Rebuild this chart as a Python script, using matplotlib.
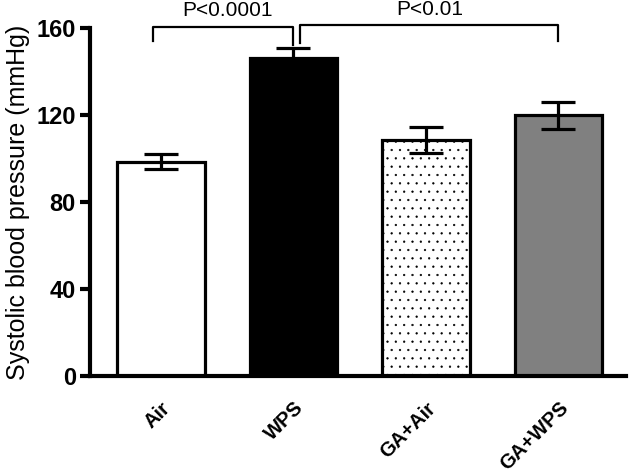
import matplotlib.pyplot as plt
from matplotlib import rc
import numpy as np

rc('font', **{'family': 'sans-serif', 'sans-serif': ['Liberation Sans']})
plt.rcParams['hatch.linewidth'] = 0.4

groups = ["Air", "WPS", "GA+Air", "GA+WPS"]
means = [98.5, 146.2, 108.6, 120.0]
sems = [3.5, 4.6, 6.0, 6.2]
facecolors = ["white", "black", "white", "#808080"]
hatches = ["", "", "..", ""]

# significance brackets: (left group, right group, label)
brackets = [(0, 1, "P<0.0001"), (1, 3, "P<0.01")]

fig = plt.figure(figsize=(6.33, 4.75), dpi=100)
ax = fig.add_axes([0.142, 0.208, 0.847, 0.733])

x = np.arange(len(groups))
for i in x:
    ax.bar(i, means[i], width=0.66, color=facecolors[i], edgecolor="black",
           linewidth=2.3, hatch=hatches[i], zorder=2)
ax.errorbar(x, means, yerr=sems, fmt="none", ecolor="black", elinewidth=2.3,
            capsize=12, capthick=2.3, zorder=3)

# brackets
ax.plot([-0.06, -0.06, 1.0, 1.0], [154, 160.5, 160.5, 152], color="black", lw=1.6,
        clip_on=False, zorder=4)
ax.plot([1.05, 1.05, 3.0, 3.0], [153, 161.3, 161.3, 154], color="black", lw=1.6,
        clip_on=False, zorder=4)
ax.text(0.5, 163.5, brackets[0][2], ha="center", va="bottom", fontsize=15)
ax.text(2.03, 164, brackets[1][2], ha="center", va="bottom", fontsize=15)

ax.set_xlim(-0.536, 3.51)
ax.set_ylim(0, 160)
ax.set_yticks([0, 40, 80, 120, 160])
ax.set_yticklabels(["0", "40", "80", "120", "160"], fontsize=17, fontweight="bold")
ax.set_xticks(x)
ax.set_xticklabels(groups, rotation=45, ha="right", rotation_mode="anchor",
                   fontsize=14.5, fontweight="bold")
ax.tick_params(axis="x", length=0, pad=16)
ax.tick_params(axis="y", length=7, width=3, pad=3)
ax.set_ylabel("Systolic blood pressure (mmHg)", fontsize=18, labelpad=5)

for s in ["top", "right"]:
    ax.spines[s].set_visible(False)
for s in ["left", "bottom"]:
    ax.spines[s].set_linewidth(3)

fig.savefig("out.png", dpi=100)
plt.close(fig)
